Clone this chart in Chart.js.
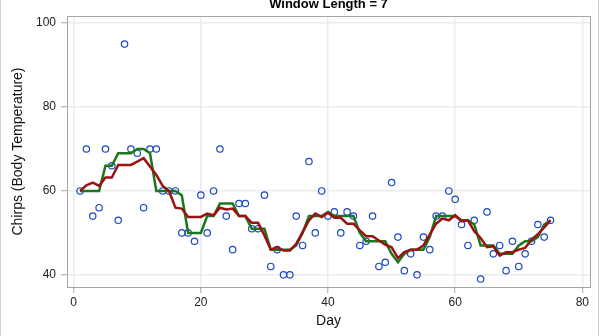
<!DOCTYPE html>
<html>
<head>
<meta charset="utf-8">
<title>Window Length = 7</title>
<script src="https://cdn.jsdelivr.net/npm/chart.js@4/dist/chart.umd.min.js"></script>
<style>
  html, body { margin: 0; padding: 0; background: #fff; }
  #wrap { width: 600px; height: 336px; position: relative; }
</style>
</head>
<body>
<div id="wrap"><canvas id="chirpChart" width="600" height="336"></canvas></div>
<script>
// observed data, day by day
const days = [
  1,2,3,4,5,6,7,8,9,10,11,12,13,14,15,16,17,18,19,20,21,22,23,24,25,
  26,27,28,29,30,31,32,33,34,35,36,37,38,39,40,41,42,43,44,45,46,47,48,49,50,
  51,52,53,54,55,56,57,58,59,60,61,62,63,64,65,66,67,68,69,70,71,72,73,74,75
];
const chirps = [
  60,70,54,56,70,66,53,95,70,69,56,70,70,60,60,60,50,50,48,59,50,60,70,54,46,
  57,57,51,51,59,42,46,40,40,54,47,67,50,60,54,55,50,55,54,47,48,54,42,43,62,
  49,41,45,40,49,46,54,54,60,58,52,47,53,39,55,45,47,41,48,42,45,48,52,49,53
];
// rolling median (green), window of 7
const rollMedian = [
  60,60,60,60,66,66,69,69,69,70,70,69,60,60,60,60,59,50,50,50,54,54,57,57,57,
  54,54,51,51,51,46,46,46,46,47,50,54,54,54,55,54,54,54,54,50,48,48,48,48,45,
  43,45,46,46,46,49,54,54,54,54,53,53,52,47,47,47,45,45,45,47,48,48,49,52,53
];
// rolling trimmed mean (red), window of 7
const rollMean = [
  60,61.33,62,61.2,63.2,63.2,66.2,66.2,66.2,67,67.8,65.8,63.8,61.2,60,56,55.8,53.8,53.8,53.8,54.6,54.2,56,55.6,55.8,
  54,54,52.4,52.4,49.4,46,46.6,45.8,45.8,47.4,50.2,53,54.6,53.8,54.8,53.6,53.6,52.2,52.2,50.6,49.2,49.2,48.2,47.2,46.6,
  44,45.4,46,46,47,49.6,52.2,53.4,53,54.2,52.8,53,50.4,48.8,46.6,46.8,44.6,45.4,45.4,46,46.4,48.4,49.67,51.33,53
];
const xTicks = [0, 20, 40, 60, 80];
const yTicks = [40, 60, 80, 100];

const FONT = "'Liberation Sans', Arial, sans-serif";

const pairs = arr => days.map((d, i) => ({ x: d, y: arr[i] }));

const framePlugin =
{
  id: "frame",
  afterDraw(chart)
  {
    const { ctx, chartArea: a } = chart;
    ctx.save();
    ctx.strokeStyle = "#a2a6ab";
    ctx.lineWidth = 1;
    ctx.strokeRect(Math.round(a.left) + 0.5, Math.round(a.top) + 0.5,
      Math.round(a.right - a.left), Math.round(a.bottom - a.top));

    // outer page edges
    ctx.strokeStyle = "#cfcfcf";
    ctx.beginPath();
    ctx.moveTo(0.5, 0); ctx.lineTo(0.5, 336);
    ctx.moveTo(598.5, 0); ctx.lineTo(598.5, 336);
    ctx.stroke();

    // title, mostly cut off at the top
    ctx.fillStyle = "#000";
    ctx.font = "bold 13px " + FONT;
    ctx.textAlign = "center";
    ctx.textBaseline = "alphabetic";
    ctx.fillText("Window Length = 7", (a.left + a.right) / 2, 8);
    ctx.restore();
  }
};

new Chart(document.getElementById("chirpChart"),
{
  type: "scatter",
  data:
  {
    datasets: [
    {
      label: "Chirps",
      data: pairs(chirps),
      pointStyle: "circle",
      pointRadius: 3.2,
      pointBorderWidth: 1.2,
      borderColor: "#1a47c2",
      backgroundColor: "rgba(0,0,0,0)",
      order: 3
    },
    {
      label: "Rolling median",
      data: pairs(rollMedian),
      showLine: true,
      pointRadius: 0,
      borderColor: "#1c761c",
      borderWidth: 2.5,
      tension: 0,
      order: 2
    },
    {
      label: "Rolling mean",
      data: pairs(rollMean),
      showLine: true,
      pointRadius: 0,
      borderColor: "#9c1111",
      borderWidth: 2.5,
      tension: 0,
      order: 1
    }]
  },
  options:
  {
    responsive: false,
    animation: false,
    devicePixelRatio: 1,
    layout: { padding: { left: 0, right: 10, top: 16, bottom: 0 } },
    plugins:
    {
      legend: { display: false },
      tooltip: { enabled: false },
      title: { display: false }
    },
    scales:
    {
      x:
      {
        type: "linear",
        min: -1.05,
        max: 81.2,
        afterBuildTicks: s => { s.ticks = xTicks.map(v => ({ value: v })); },
        afterFit: s => { s.height = 49; },
        border: { display: false },
        grid: { color: "#ebebeb", lineWidth: 1.5, tickColor: "#a2a6ab", tickLength: 6, tickWidth: 1 },
        ticks: { font: { family: FONT, size: 12 }, color: "#222", padding: 2, maxRotation: 0 },
        title:
        {
          display: true,
          text: "Day",
          font: { family: FONT, size: 14 },
          color: "#111",
          padding: { top: 0, bottom: 6 }
        }
      },
      y:
      {
        type: "linear",
        min: 37.1,
        max: 101.7,
        afterBuildTicks: s => { s.ticks = yTicks.map(v => ({ value: v })); },
        afterFit: s => { s.width = 67; },
        border: { display: false },
        grid: { color: "#ebebeb", lineWidth: 1.5, tickColor: "#a2a6ab", tickLength: 6, tickWidth: 1 },
        ticks: { font: { family: FONT, size: 12 }, color: "#222", padding: 5 },
        title:
        {
          display: true,
          text: "Chirps (Body Temperature)",
          font: { family: FONT, size: 14 },
          color: "#111",
          padding: { top: 10, bottom: 0 }
        }
      }
    }
  },
  plugins: [framePlugin]
});
</script>
</body>
</html>
